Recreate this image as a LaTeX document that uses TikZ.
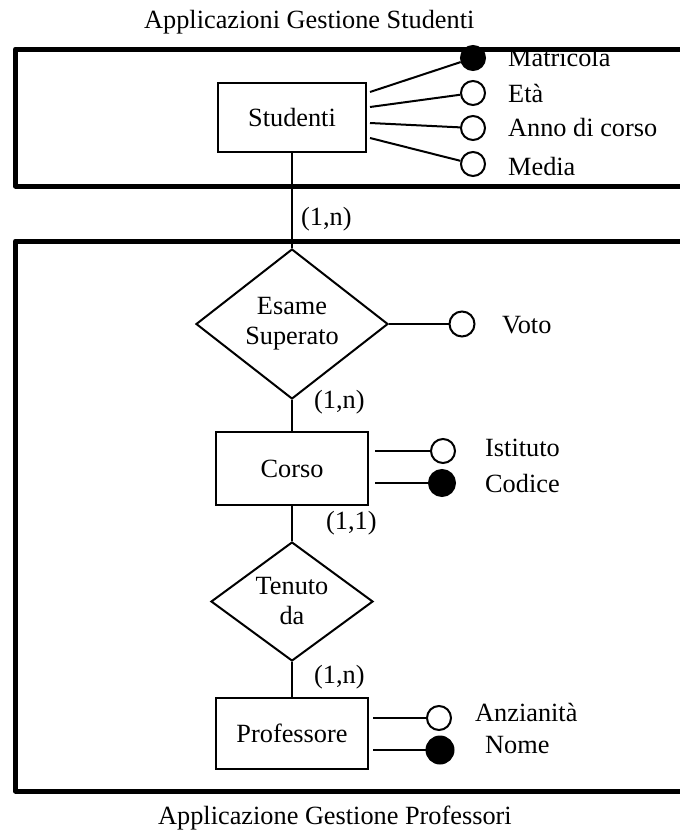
\documentclass[tikz,border=0pt]{standalone}
\usepackage{fontspec}
\setmainfont{Liberation Serif}
\usetikzlibrary{shapes.geometric}
\begin{document}
\begin{tikzpicture}[x=1pt,y=-1pt,
  txt/.style={font=\fontsize{26.3}{30}\selectfont, inner sep=0pt},
  entity/.style={draw, line width=2pt, rectangle, inner sep=0pt, font=\fontsize{26.3}{30}\selectfont},
  relation/.style={draw, line width=2pt, diamond, inner sep=0pt, align=center, font=\fontsize{26.3}{30}\selectfont},
  attr/.style={draw, line width=2pt, circle, inner sep=0pt, minimum size=24pt, fill=white},
  keyattr/.style={attr, fill=black},
  conn/.style={line width=2pt},
  frame/.style={line width=5pt, line join=round}
]
\useasboundingbox (0,0) rectangle (680,833);
\clip (0,0) rectangle (680,833);

% frames
\draw[frame] (15.5,49) rectangle (700,186);
\draw[frame] (15.5,241) rectangle (700,791);

% titles
\node[txt, anchor=west] (t1) at (144,22) {Applicazioni Gestione Studenti};
\node[txt, anchor=west] (t2) at (158,818) {Applicazione Gestione Professori};

% entities and relations
\node[entity, minimum width=148pt, minimum height=69pt] (studenti) at (292,117.5) {Studenti};
\node[relation, minimum width=192pt, minimum height=150pt, aspect=1.28] (esame) at (292,324) {Esame\\Superato};
\node[entity, minimum width=152pt, minimum height=73pt] (corso) at (292,468.5) {Corso};
\node[relation, minimum width=162pt, minimum height=119pt, aspect=1.36] (tenuto) at (292,601.5) {Tenuto\\da};
\node[entity, minimum width=152pt, minimum height=71pt] (prof) at (292,733.5) {Professore};

\draw[conn] (studenti.south) -- (esame.north);
\draw[conn] (esame.south) -- (corso.north);
\draw[conn] (corso.south) -- (tenuto.north);
\draw[conn] (tenuto.south) -- (prof.north);

% cardinalities
\node[txt, anchor=west] (c1) at (301,219) {(1,n)};
\node[txt, anchor=west] (c2) at (314,402) {(1,n)};
\node[txt, anchor=west] (c3) at (326,523) {(1,1)};
\node[txt, anchor=west] (c4) at (314,677) {(1,n)};

% Studenti attributes
\coordinate (s1) at (370,92);
\coordinate (s2) at (370,107);
\coordinate (s3) at (370,123);
\coordinate (s4) at (370,138);
\node[keyattr] (matr) at (473,58) {};
\node[attr] (eta) at (473,93) {};
\node[attr] (anno) at (473,128) {};
\node[attr] (media) at (473,164) {};
\draw[conn] (s1) -- (matr);
\draw[conn] (s2) -- (eta);
\draw[conn] (s3) -- (anno);
\draw[conn] (s4) -- (media);
\node[txt, anchor=west] (lmatr) at (508,58) {Matricola};
\node[txt, anchor=west] (leta) at (508,93) {Età};
\node[txt, anchor=west] (lanno) at (508,128) {Anno di corso};
\node[txt, anchor=west] (lmedia) at (508,167) {Media};

% Voto
\node[attr, minimum size=25pt] (voto) at (462,324) {};
\draw[conn] (esame.east) -- (voto);
\node[txt, anchor=west] (lvoto) at (502,325) {Voto};

% Corso attributes
\coordinate (k1) at (375,451);
\coordinate (k2) at (375,483);
\node[attr] (ist) at (443,451) {};
\node[keyattr, minimum size=26pt] (cod) at (442,483) {};
\draw[conn] (k1) -- (ist);
\draw[conn] (k2) -- (cod);
\node[txt, anchor=west] (list) at (485,448) {Istituto};
\node[txt, anchor=west] (lcod) at (485,483) {Codice};

% Professore attributes
\coordinate (p1) at (373,718);
\coordinate (p2) at (373,750);
\node[attr] (anz) at (439,718) {};
\node[keyattr, minimum size=27pt] (nome) at (440,750) {};
\draw[conn] (p1) -- (anz);
\draw[conn] (p2) -- (nome);
\node[txt, anchor=west] (lanz) at (475,712) {Anzianità};
\node[txt, anchor=west] (lnome) at (485,745) {Nome};
\end{tikzpicture}
\end{document}
